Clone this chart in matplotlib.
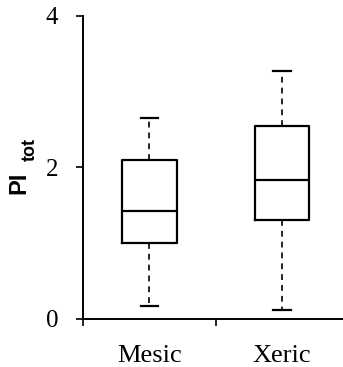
import matplotlib
matplotlib.use("Agg")
import matplotlib.pyplot as plt

# box statistics
groups = ["Mesic", "Xeric"]
whislo = [0.17, 0.12]
q1 = [1.00, 1.31]
med = [1.42, 1.83]
q3 = [2.10, 2.54]
whishi = [2.65, 3.27]
yticks = [0, 2, 4]

fig = plt.figure(figsize=(3.43, 3.67), dpi=100)
ax = fig.add_axes([0.242, 0.131, 0.758, 0.826])

stats = []
for i in range(len(groups)):
    stats.append(dict(label=groups[i], whislo=whislo[i], q1=q1[i], med=med[i],
                      q3=q3[i], whishi=whishi[i], fliers=[]))

ax.bxp(stats, positions=[1, 2], widths=0.41, showfliers=False,
       boxprops=dict(color="black", linewidth=1.6),
       medianprops=dict(color="black", linewidth=1.6),
       whiskerprops=dict(color="black", linewidth=1.2, linestyle=(0, (3.5, 3))),
       capprops=dict(color="black", linewidth=1.6),
       capwidths=0.13)

ax.set_xlim(0.5, 2.46)
ax.set_ylim(0, 4)
ax.spines["top"].set_visible(False)
ax.spines["right"].set_visible(False)
for s in ("left", "bottom"):
    ax.spines[s].set_linewidth(1.4)

ax.set_yticks(yticks)
ax.set_yticklabels([str(t) for t in yticks], family=["Liberation Serif"], fontsize=18)
ax.tick_params(axis="y", length=5, width=1.2, pad=13)

ax.set_xticks([0.5, 1.5])
ax.set_xticklabels([])
ax.set_xticks([1, 2], minor=True)
ax.set_xticklabels(groups, minor=True, family=["Liberation Serif"], fontsize=19)
ax.tick_params(axis="x", which="major", length=5, width=1.2)
ax.tick_params(axis="x", which="minor", length=0, pad=19)

# y label: bold "PI" with a bold subscript "tot", both turned 90 degrees
fig.text(0.056, 0.503, "PI", rotation=90, ha="center", va="center",
         family=["Liberation Sans"], fontweight="bold", fontsize=17)
fig.text(0.089, 0.592, "tot", rotation=90, ha="center", va="center",
         family=["Liberation Sans"], fontweight="bold", fontsize=13)

fig.savefig("out.png", dpi=100)
